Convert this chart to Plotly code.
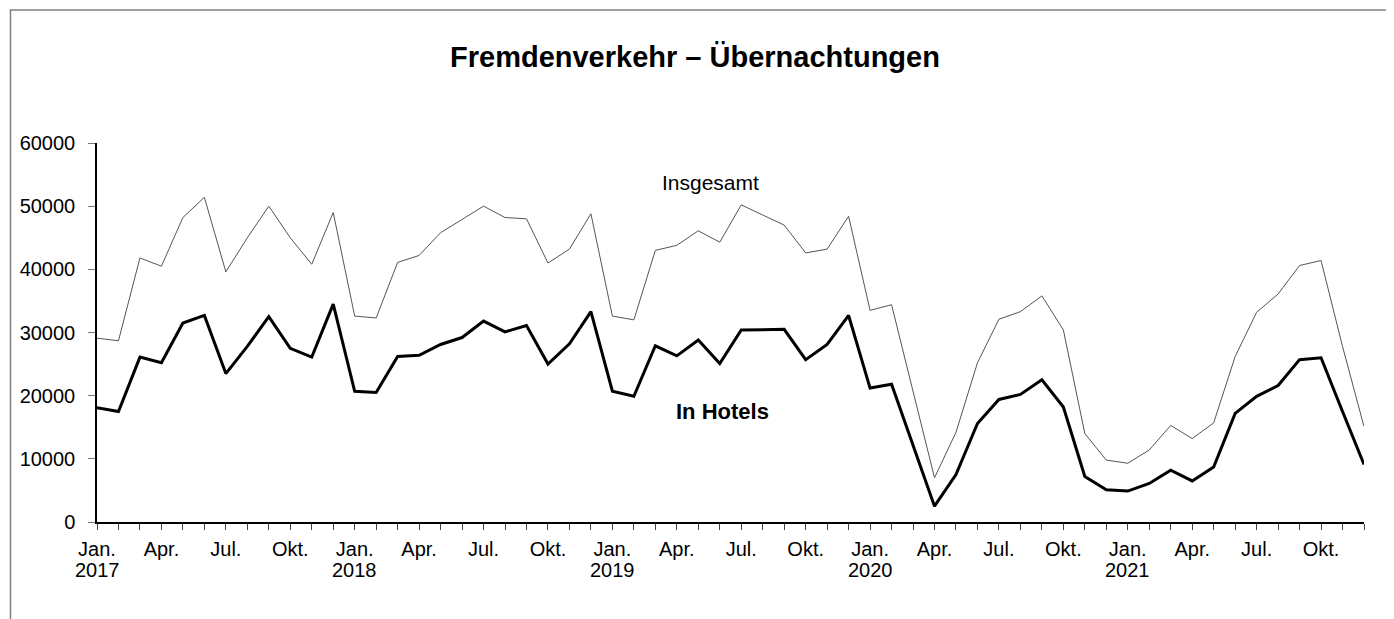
import plotly.graph_objects as go

years = [2017, 2018, 2019, 2020, 2021]
month_labels = ["Jan.", "Apr.", "Jul.", "Okt."]

insgesamt = [
    29100, 28700, 41800, 40500, 48200, 51400, 39600, 45000, 50000, 45000, 40800, 49000,
    32600, 32300, 41100, 42200, 45800, 47900, 50000, 48200, 48000, 41000, 43200, 48800,
    32600, 32000, 43000, 43800, 46100, 44300, 50200, 48600, 47000, 42600, 43200, 48400,
    33500, 34400, 20600, 7000, 14200, 25200, 32100, 33300, 35800, 30400, 14000, 9800,
    9300, 11400, 15300, 13200, 15700, 26200, 33200, 36100, 40600, 41400, 27800, 15100,
]
in_hotels = [
    18100, 17500, 26100, 25200, 31500, 32700, 23500, 27800, 32500, 27500, 26100, 34500,
    20700, 20500, 26200, 26400, 28100, 29200, 31800, 30100, 31100, 25000, 28200, 33300,
    20700, 19900, 27900, 26300, 28800, 25100, 30400, 30400, 30500, 25700, 28100, 32700,
    21200, 21800, 12000, 2500, 7500, 15600, 19400, 20200, 22500, 18200, 7200, 5100,
    4900, 6100, 8200, 6500, 8700, 17200, 19900, 21600, 25700, 26000, 17500, 9100,
]

n = len(insgesamt)
x = list(range(n))

tickvals = list(range(n))
ticktext = []
for i in range(n):
    m = i % 12
    ticktext.append(month_labels[m // 3] if m % 3 == 0 else "")

FONT = "Liberation Sans, Arial, sans-serif"

# page body has an 8px margin; figure is sized/offset to compensate
W, H = 1386, 611
OFF = 8
L, T = 90 - OFF, 143 - OFF
PW, PH = 1274, 379


def px(xp):
    return (xp - OFF - L) / PW


def py(yp):
    return (T + PH - (yp - OFF)) / PH


fig = go.Figure()
fig.add_trace(go.Scatter(x=x, y=insgesamt, mode="lines", name="Insgesamt",
                         line=dict(color="#555555", width=1)))
fig.add_trace(go.Scatter(x=x, y=in_hotels, mode="lines", name="In Hotels",
                         line=dict(color="#000000", width=3)))

fig.update_layout(
    width=W, height=H,
    margin=dict(l=L, r=W - L - PW, t=T, b=H - T - PH),
    paper_bgcolor="white", plot_bgcolor="white",
    showlegend=False,
    font=dict(family=FONT, size=20, color="#000000"),
    xaxis=dict(range=[0, n - 1], tickmode="array", tickvals=tickvals, ticktext=ticktext,
               showgrid=False, zeroline=False, showline=True, linecolor="#000000", linewidth=1.5,
               ticks="outside", ticklen=6, tickcolor="#444444", tickwidth=1,
               ticklabelstandoff=2,
               tickfont=dict(family=FONT, size=20, color="#000000")),
    yaxis=dict(range=[0, 60000], tickmode="array", tickvals=[0, 10000, 20000, 30000, 40000, 50000, 60000],
               ticktext=["0", "10000", "20000", "30000", "40000", "50000", "60000"],
               showgrid=False, zeroline=False, showline=True, linecolor="#000000", linewidth=1.5,
               ticks="outside", ticklen=7, tickcolor="#777777", tickwidth=1,
               ticklabelstandoff=9,
               tickfont=dict(family=FONT, size=20, color="#000000")),
)

for k, yr in enumerate(years):
    fig.add_annotation(text=str(yr), xref="x", yref="paper", x=12 * k, y=py(570),
                       xanchor="center", yanchor="middle", showarrow=False,
                       font=dict(family=FONT, size=20, color="#000000"))

fig.add_annotation(text="<b>Fremdenverkehr – Übernachtungen</b>", xref="paper", yref="paper",
                   x=px(691), y=py(57), xanchor="center", yanchor="middle",
                   showarrow=False, font=dict(family=FONT, size=29, color="#000000"))
fig.add_annotation(text="Insgesamt", xref="paper", yref="paper",
                   x=px(707), y=py(182), xanchor="center", yanchor="middle",
                   showarrow=False, font=dict(family=FONT, size=21, color="#000000"))
fig.add_annotation(text="<b>In Hotels</b>", xref="paper", yref="paper",
                   x=px(719), y=py(411), xanchor="center", yanchor="middle",
                   showarrow=False, font=dict(family=FONT, size=22, color="#000000"))

fig.add_shape(type="rect", xref="paper", yref="paper",
              x0=px(3), x1=1.2, y0=-0.6, y1=py(10),
              line=dict(color="#808080", width=1.5), fillcolor="rgba(0,0,0,0)", layer="below")

fig.write_html("out.html")
